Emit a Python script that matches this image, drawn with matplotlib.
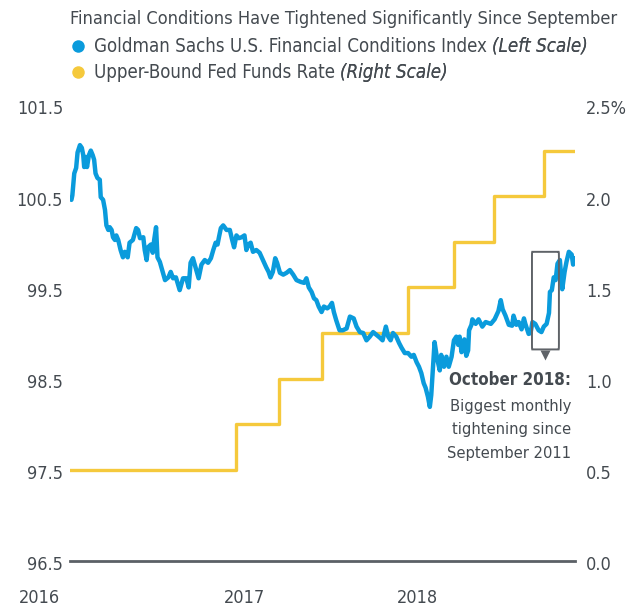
import matplotlib
matplotlib.use("Agg")
import matplotlib.pyplot as plt
import matplotlib.dates as mdates
import matplotlib.transforms as mtransforms
from matplotlib.patches import FancyBboxPatch
from matplotlib.lines import Line2D
import pandas as pd

plt.rcParams['font.family'] = ['DejaVu Sans']
plt.rcParams['font.stretch'] = 'condensed'

############### data ###############
fci_dates = ["2016-01-01","2016-01-03","2016-01-07","2016-01-11","2016-01-14","2016-01-19","2016-01-23","2016-01-26",
             "2016-01-28","2016-01-31","2016-02-03","2016-02-07","2016-02-11","2016-02-15","2016-02-18","2016-02-21",
             "2016-02-25","2016-03-01","2016-03-03","2016-03-08","2016-03-12","2016-03-15","2016-03-19","2016-03-22",
             "2016-03-26","2016-03-29","2016-04-02","2016-04-05","2016-04-09","2016-04-14","2016-04-19","2016-04-23",
             "2016-04-29","2016-05-03","2016-05-10","2016-05-17","2016-05-21","2016-05-25","2016-06-01","2016-06-04",
             "2016-06-08","2016-06-11","2016-06-17","2016-06-21","2016-06-24","2016-06-28","2016-07-01","2016-07-06",
             "2016-07-11","2016-07-17","2016-07-24","2016-07-29","2016-08-03","2016-08-09","2016-08-17","2016-08-24",
             "2016-08-31","2016-09-05","2016-09-09","2016-09-14","2016-09-21","2016-09-26","2016-10-02","2016-10-09",
             "2016-10-16","2016-10-22","2016-10-27","2016-11-01","2016-11-05","2016-11-08","2016-11-12","2016-11-17",
             "2016-11-24","2016-12-01","2016-12-06","2016-12-10","2016-12-15","2016-12-20","2016-12-26","2017-01-01",
             "2017-01-05","2017-01-09","2017-01-14","2017-01-19","2017-01-26","2017-02-02","2017-02-09","2017-02-16",
             "2017-02-21","2017-02-25","2017-03-02","2017-03-07","2017-03-11","2017-03-17","2017-03-24","2017-03-31",
             "2017-04-07","2017-04-14","2017-04-21","2017-04-30","2017-05-07","2017-05-12","2017-05-17","2017-05-23",
             "2017-05-28","2017-06-02","2017-06-07","2017-06-13","2017-06-18","2017-06-25","2017-06-30","2017-07-05",
             "2017-07-09","2017-07-14","2017-07-21","2017-07-28","2017-08-05","2017-08-12","2017-08-20","2017-08-26",
             "2017-09-02","2017-09-09","2017-09-16","2017-09-23","2017-09-30","2017-10-07","2017-10-14","2017-10-20",
             "2017-10-27","2017-11-01","2017-11-06","2017-11-11","2017-11-18","2017-11-24","2017-11-29","2017-12-06",
             "2017-12-13","2017-12-20","2017-12-25","2017-12-31","2018-01-05","2018-01-10","2018-01-15","2018-01-19",
             "2018-01-24","2018-01-28","2018-01-31","2018-02-04","2018-02-07","2018-02-12","2018-02-18","2018-02-21",
             "2018-02-27","2018-03-04","2018-03-09","2018-03-15","2018-03-20","2018-03-25","2018-03-29","2018-04-01",
             "2018-04-05","2018-04-11","2018-04-15","2018-04-19","2018-04-21","2018-04-26","2018-04-28","2018-05-05",
             "2018-05-11","2018-05-19","2018-05-26","2018-06-06","2018-06-14","2018-06-22","2018-06-27","2018-07-01",
             "2018-07-07","2018-07-14","2018-07-21","2018-07-24","2018-07-30","2018-08-04","2018-08-10","2018-08-15",
             "2018-08-18","2018-08-25","2018-08-29","2018-09-02","2018-09-08","2018-09-15","2018-09-21","2018-09-26",
             "2018-10-02","2018-10-07","2018-10-09","2018-10-13","2018-10-17","2018-10-21","2018-10-25","2018-10-30",
             "2018-11-04","2018-11-09","2018-11-13","2018-11-18","2018-11-24","2018-11-27","2018-11-30"]
fci_values = [100.46,100.51,100.75,100.81,100.98,101.06,101.03,100.95,
              100.82,100.93,100.82,100.95,101.00,100.95,100.90,100.75,
              100.70,100.68,100.49,100.46,100.35,100.18,100.13,100.16,
              100.13,100.05,100.02,100.07,100.02,99.91,99.83,99.89,
              99.83,99.99,100.02,100.15,100.13,100.04,100.05,99.91,
              99.80,99.94,99.97,99.88,100.02,100.16,99.83,99.78,
              99.69,99.58,99.61,99.67,99.60,99.61,99.47,99.60,
              99.60,99.50,99.77,99.82,99.69,99.60,99.75,99.80,
              99.77,99.82,99.91,99.99,99.97,100.05,100.15,100.18,
              100.13,100.13,100.02,99.94,100.07,100.04,100.05,100.07,
              99.91,99.97,99.99,99.89,99.91,99.88,99.80,99.72,
              99.67,99.61,99.67,99.82,99.77,99.66,99.64,99.66,
              99.69,99.64,99.58,99.56,99.55,99.60,99.50,99.45,
              99.38,99.36,99.29,99.23,99.29,99.27,99.29,99.33,
              99.23,99.14,99.03,99.03,99.05,99.18,99.16,99.07,
              99.01,99.00,98.92,98.96,99.01,98.98,98.95,98.92,
              99.07,98.96,98.92,99.00,98.96,98.89,98.84,98.78,
              98.78,98.74,98.76,98.68,98.63,98.56,98.45,98.40,
              98.30,98.19,98.32,98.65,98.90,98.73,98.59,98.76,
              98.63,98.74,98.63,98.74,98.92,98.96,98.87,98.96,
              98.79,98.93,98.75,98.81,99.03,99.09,99.15,99.10,
              99.15,99.07,99.12,99.10,99.15,99.24,99.36,99.26,
              99.19,99.09,99.08,99.19,99.09,99.12,99.04,99.16,
              99.10,98.99,99.00,99.12,99.10,99.03,99.01,99.07,
              99.10,99.22,99.45,99.47,99.61,99.58,99.76,99.80,
              99.48,99.67,99.78,99.89,99.86,99.75,99.82]

fed_dates = ["2015-12-17","2016-12-14","2017-03-15","2017-06-14","2017-12-13",
             "2018-03-21","2018-06-13","2018-09-26","2018-12-01"]
fed_rate = [0.50, 0.75, 1.00, 1.25, 1.50, 1.75, 2.00, 2.25, 2.25]

year_labels = ["2016", "2017", "2018"]
left_ticks = [96.5, 97.5, 98.5, 99.5, 100.5, 101.5]
right_ticks = [0.0, 0.5, 1.0, 1.5, 2.0, 2.5]

title = "Financial Conditions Have Tightened Significantly Since September"
series1 = ("Goldman Sachs U.S. Financial Conditions Index", "(Left Scale)")
series2 = ("Upper-Bound Fed Funds Rate", "(Right Scale)")
note_head = "October 2018:"
note_body = "Biggest monthly\ntightening since\nSeptember 2011"

######################## style ########################
BLUE = "#0a9bdc"
YELLOW = "#f5c93c"
BG = "#edeeee"
TXT = "#444a50"
AXIS = "#5b6066"
FS_TICK = 13
FS_NOTE = 11.8

fig = plt.figure(figsize=(6.28, 6.08), dpi=100)
ax = fig.add_axes([70/628, 47/608, 505/628, 456/608])
ax2 = ax.twinx()
ax.set_zorder(ax2.get_zorder() + 1)
ax.patch.set_visible(False)
ax2.patch.set_facecolor(BG)

ax.plot(pd.to_datetime(fci_dates), fci_values, color=BLUE, lw=3.2,
        solid_joinstyle="round", solid_capstyle="round", zorder=3)
ax2.plot(pd.to_datetime(fed_dates), fed_rate, color=YELLOW, lw=2.4, drawstyle="steps-post")

ax.set_xlim(pd.Timestamp("2015-12-29"), pd.Timestamp("2018-12-01"))
ax.set_ylim(96.5, 101.5)
ax2.set_ylim(0, 2.5)

for a in (ax, ax2):
    for s in a.spines.values():
        s.set_visible(False)
    a.tick_params(length=0, labelsize=FS_TICK, labelcolor=TXT)
ax2.spines["bottom"].set_visible(True)
ax2.spines["bottom"].set_color(AXIS)
ax2.spines["bottom"].set_linewidth(2)

ax.set_yticks(left_ticks)
ax.set_yticklabels([f"{v:.1f}" for v in left_ticks])
ax.tick_params(axis="y", pad=5)
ax2.set_yticks(right_ticks)
ax2.set_yticklabels([f"{v:.1f}" + ("%" if v == 2.5 else "") for v in right_ticks])
ax2.tick_params(axis="y", pad=8)
for lbl in ax.get_yticklabels() + ax2.get_yticklabels():
    lbl.set_transform(lbl.get_transform() + mtransforms.ScaledTranslation(0, -0.025, fig.dpi_scale_trans))

ax.set_xticks(pd.to_datetime([y + "-01-01" for y in year_labels]))
ax.set_xticklabels(year_labels)
ax.tick_params(axis="x", pad=20)
# first year label sits left of the axis, under the left scale
lbl0 = ax.get_xticklabels()[0]
lbl0.set_transform(lbl0.get_transform() + mtransforms.ScaledTranslation(-0.32, 0, fig.dpi_scale_trans))

# annotation box around October move
bx0 = mdates.date2num(pd.Timestamp("2018-09-01"))
bx1 = mdates.date2num(pd.Timestamp("2018-10-28"))
box = FancyBboxPatch((bx0, 98.82), bx1 - bx0, 1.07, boxstyle="round,pad=0,rounding_size=0.6",
                     fill=False, ec="#5f6368", lw=1.4, zorder=4, mutation_aspect=0.08)
ax.add_patch(box)
ax.plot([(bx0 + bx1) / 2], [98.76], marker="v", ms=7, color="#5f6368", mec="none", zorder=4, clip_on=False)

ax.text(0.993, 0.397, note_head, transform=ax.transAxes, ha="right", va="center",
        fontsize=12.2, fontweight="bold", color=TXT)
ax.text(0.993, 0.356, note_body, transform=ax.transAxes, ha="right", va="top",
        fontsize=FS_NOTE, color=TXT, linespacing=1.72)

# header + legend
fig.text(70/628, 1 - 19/608, title, ha="left", va="center", fontsize=13.1, color=TXT)
for i, (name, scale) in enumerate([series1, series2]):
    yy = 1 - (46 + 26 * i) / 608
    col = BLUE if i == 0 else YELLOW
    fig.add_artist(Line2D([78/628], [yy], marker="o", ms=9, color=col, mec="none",
                          transform=fig.transFigure))
    t = fig.text(94/628, yy, name + " ", ha="left", va="center", fontsize=13.4, color=TXT)
    fig.add_artist(plt.annotate(scale, xy=(1, 0), xycoords=t, va="bottom", ha="left",
                                fontsize=13.4, color=TXT, style="italic", annotation_clip=False))

fig.savefig("out.png", dpi=100, facecolor="white")
